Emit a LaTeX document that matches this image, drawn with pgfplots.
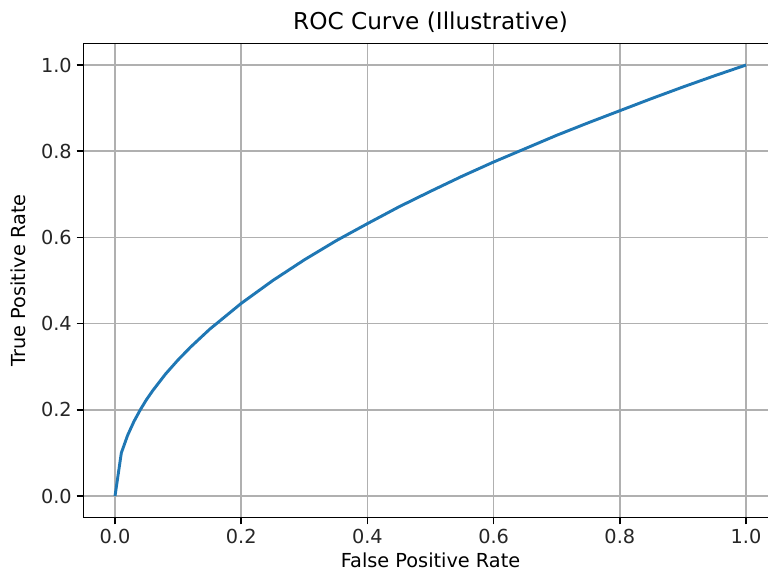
\documentclass[border=0pt]{standalone}
\usepackage{pgfplots}
\pgfplotsset{compat=1.18}
\usepackage{fontspec}
\setmainfont{DejaVu Sans}
\definecolor{mplblue}{HTML}{1F77B4}
\definecolor{mplgrid}{HTML}{B0B0B0}
\begin{document}
\begin{tikzpicture}
\begin{axis}[
  scale only axis,
  width=499.8pt, height=341.4pt,
  xmin=-0.05, xmax=1.05, ymin=-0.05, ymax=1.05,
  xtick={0,0.2,0.4,0.6,0.8,1.0},
  ytick={0,0.2,0.4,0.6,0.8,1.0},
  /pgf/number format/assume math mode=true,
  /pgf/number format/fixed, /pgf/number format/fixed zerofill,
  /pgf/number format/precision=1,
  tick label style={font=\fontsize{13.9}{16}\selectfont, color=black!85},
  label style={font=\fontsize{13.9}{16}\selectfont},
  ylabel style={yshift=4pt},
  xlabel style={yshift=0.5pt},
  title style={font=\fontsize{16.7}{19}\selectfont, yshift=-2pt},
  title={ROC Curve (Illustrative)},
  xlabel={False Positive Rate},
  ylabel={True Positive Rate},
  grid=major,
  major grid style={color=mplgrid, line width=1.1pt},
  axis line style={line width=1.1pt, black},
  tick style={line width=1.1pt, black},
  tick align=outside,
  major tick length=4.9pt,
  xtick pos=bottom, ytick pos=left,
  clip=false,
]
\addplot[mplblue, line width=2.1pt] coordinates {
  (0,0) (0.01,0.1) (0.02,0.141) (0.03,0.173) (0.04,0.2) (0.05,0.224)
  (0.06,0.245) (0.08,0.283) (0.1,0.316) (0.12,0.346) (0.15,0.387)
  (0.2,0.447) (0.25,0.5) (0.3,0.548) (0.35,0.592) (0.4,0.632)
  (0.45,0.671) (0.5,0.707) (0.55,0.742) (0.6,0.775) (0.65,0.806)
  (0.7,0.837) (0.75,0.866) (0.8,0.894) (0.85,0.922) (0.9,0.949)
  (0.95,0.975) (1,1)
};
\coordinate (SW) at (rel axis cs:0,0);
\end{axis}
\pgfresetboundingbox
\path[use as bounding box] ([shift={(-60.1pt,-38.5pt)}]SW) rectangle ([shift={(492.9pt,372.7pt)}]SW);
\end{tikzpicture}
\end{document}
